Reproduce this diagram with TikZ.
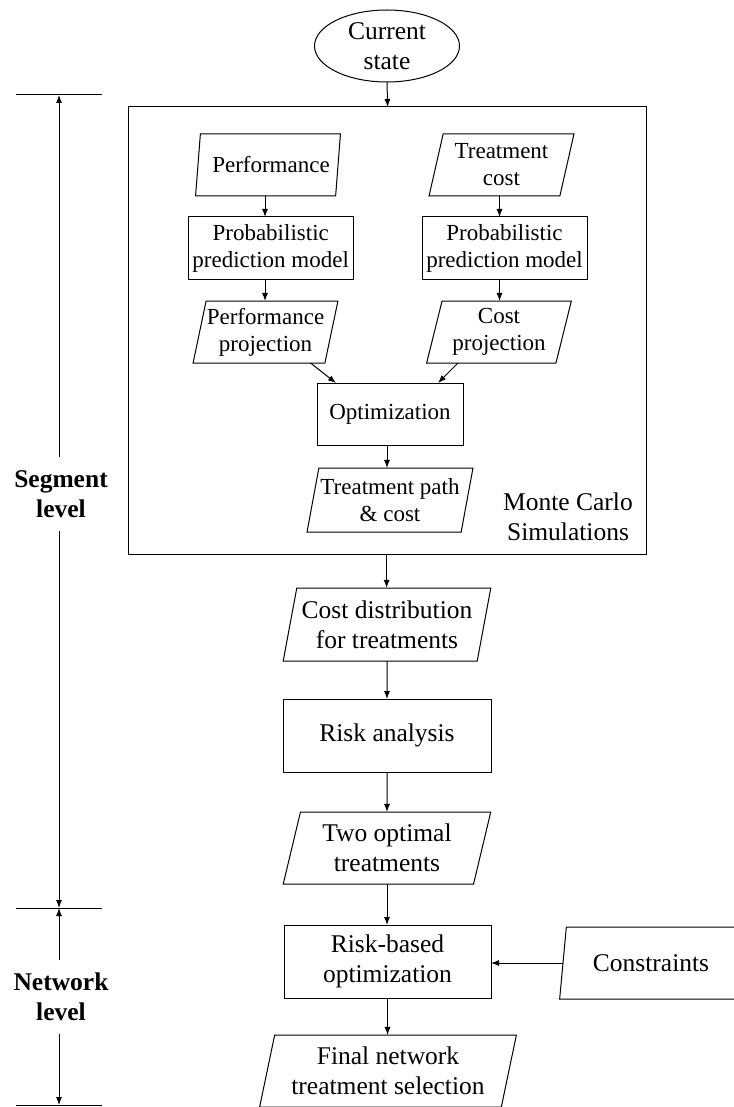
\documentclass[tikz,border=0pt]{standalone}
\usepackage{fontspec}
\setmainfont{Liberation Serif}
\usetikzlibrary{shapes.geometric,arrows.meta}
\newcommand{\bigtxt}{\fontsize{25.5}{30}\selectfont}
\newcommand{\smalltxt}{\fontsize{23}{27}\selectfont}
\begin{document}
\begin{tikzpicture}[x=1pt,y=-1pt,
  every node/.style={inner sep=0pt, outer sep=0pt, align=center},
  ln/.style={line width=1pt, draw=black},
  arr/.style={ln, -{Latex[length=8pt,width=6pt]}},
  boxb/.style={draw, line width=1pt, rectangle, font=\bigtxt},
  boxs/.style={draw, line width=1pt, rectangle, font=\smalltxt},
  parab/.style={draw, line width=1pt, trapezium, trapezium left angle=75, trapezium right angle=105, trapezium stretches=true, font=\bigtxt},
  paras/.style={parab, font=\smalltxt},
  lab/.style={font=\bigtxt\bfseries, inner ysep=13pt}
]
\useasboundingbox (0,0) rectangle (733,1107);

% top state
\node[draw, line width=1pt, ellipse, minimum width=145, minimum height=72, font=\bigtxt] (cur) at (387,46) {Current\\state};

% Monte Carlo box
\node[boxb, minimum width=518, minimum height=447] (mc) at (387.6,330.5) {};
\node[font=\bigtxt] (mctxt) at (568,517) {Monte Carlo\\Simulations};

% inner nodes
\node[paras, minimum width=145, minimum height=62] (perf) at (268,165) {\hspace*{6pt}Performance};
\node[paras, minimum width=145, minimum height=62] (tcost) at (501.5,165) {Treatment\\cost};
\node[boxs, minimum width=165, minimum height=62] (probL) at (270.7,248) {Probabilistic\\prediction model};
\node[boxs, minimum width=165, minimum height=62] (probR) at (504.5,248) {Probabilistic\\prediction model};
\node[paras, minimum width=145, minimum height=62] (perfproj) at (265.5,332) {Performance\\projection};
\node[paras, minimum width=145, minimum height=62] (costproj) at (499,332) {Cost\\projection};
\node[boxs, minimum width=146, minimum height=62] (opt) at (390,414) {Optimization};
\node[paras, minimum width=166, minimum height=64] (tpath) at (390,500) {Treatment path\\\& cost};

% outer column
\node[parab, minimum width=208, minimum height=73] (cdist) at (387,624.5) {Cost distribution\\for treatments};
\node[boxb, minimum width=208, minimum height=73] (risk) at (387,735.5) {Risk analysis};
\node[parab, minimum width=208, minimum height=72] (two) at (387,848) {Two optimal\\treatments};
\node[boxb, minimum width=207, minimum height=73] (rbo) at (387.5,961.5) {Risk-based\\optimization};
\node[parab, minimum width=183, minimum height=72] (cons) at (651,963) {Constraints};
\node[parab, minimum width=257, minimum height=72] (final) at (388,1071) {Final network\\treatment selection};

% connectors
\draw[arr] (cur.south) -- (mc.north);
\draw[arr] ([xshift=-3pt]perf.south) -- ([xshift=-3pt]perf.south |- probL.north);
\draw[arr] ([xshift=-3pt]perf.south |- probL.south) -- ([xshift=-3pt]perf.south |- perfproj.north);
\draw[arr] ([xshift=-2pt]tcost.south) -- ([xshift=-2pt]tcost.south |- probR.north);
\draw[arr] ([xshift=-2pt]tcost.south |- probR.south) -- ([xshift=-2pt]tcost.south |- costproj.north);
\draw[arr] ([xshift=45pt]perfproj.south) -- ([xshift=-54pt]opt.north);
\draw[arr] ([xshift=-41pt]costproj.south) -- ([xshift=48pt]opt.north);
\draw[arr] ([xshift=-3pt]opt.south) -- ([xshift=-3pt]opt.south |- tpath.north);
\draw[arr] ([xshift=-1pt]mc.south) -- ([xshift=-1pt]mc.south |- cdist.north);
\draw[arr] (cdist.south) -- (risk.north);
\draw[arr] (risk.south) -- (two.north);
\draw[arr] (two.south) -- (two.south |- rbo.north);
\draw[arr] (cons.west) -- (cons.west -| rbo.east);
\draw[arr] (rbo.south) -- (rbo.south |- final.north);

% level brackets
\coordinate (b1) at (59,95);
\coordinate (b2) at (59,908);
\coordinate (b3) at (59,1105);
\draw[ln] ([xshift=-43pt]b1) -- ([xshift=43pt]b1);
\draw[ln] ([xshift=-43pt]b2) -- ([xshift=43pt]b2);
\draw[ln] ([xshift=-43pt]b3) -- ([xshift=43pt]b3);
\node[lab] (seg) at (61,494) {Segment\\level};
\node[lab] (net) at (61,997) {Network\\level};
\draw[arr] (seg.north -| b1) -- (b1);
\draw[arr] (seg.south -| b1) -- (b2);
\draw[arr] (net.north -| b2) -- (b2);
\draw[arr] (net.south -| b3) -- (b3);
\end{tikzpicture}
\end{document}
